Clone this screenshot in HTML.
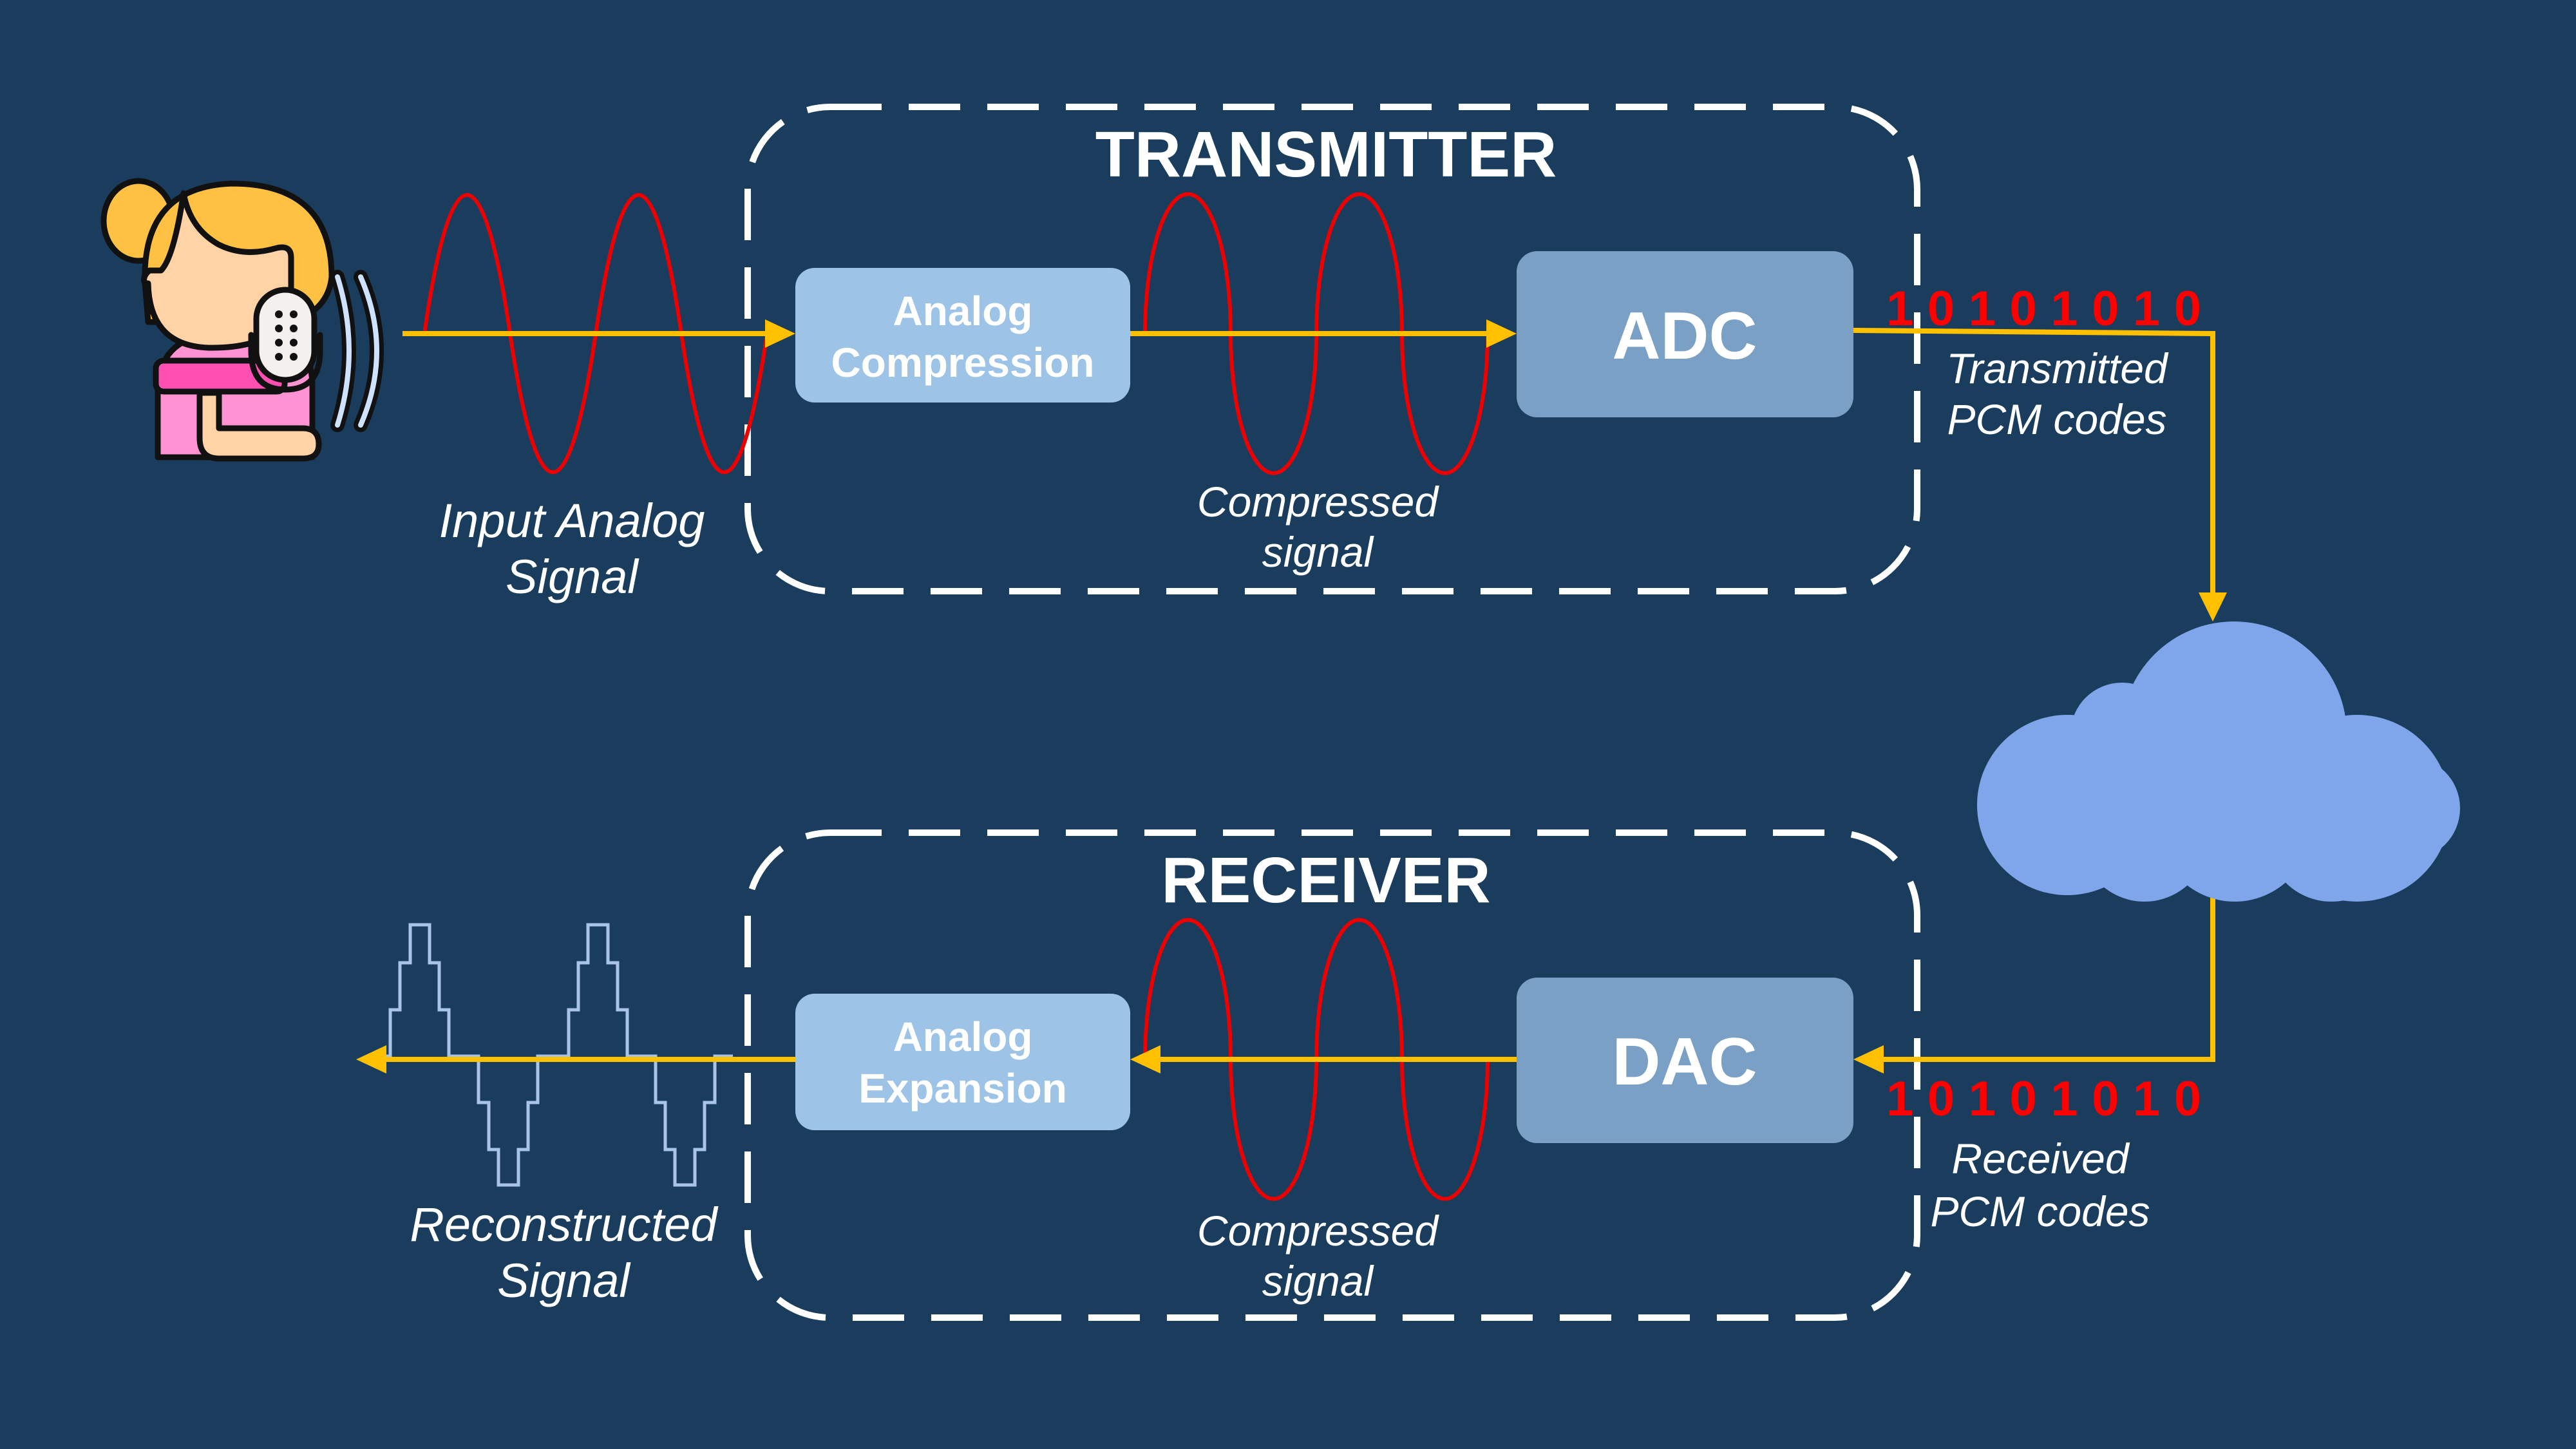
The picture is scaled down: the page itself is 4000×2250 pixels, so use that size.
<!DOCTYPE html>
<html><head><meta charset="utf-8"><style>
html,body{margin:0;padding:0;background:#1a3d5e;}
svg{display:block}
text{font-family:"Liberation Sans",Arial,sans-serif;}
</style></head><body>
<svg width="4000" height="2250" viewBox="0 0 4000 2250" xmlns="http://www.w3.org/2000/svg">
<rect width="4000" height="2250" fill="#1a3d5e"/>

<rect x="1161" y="166" width="1816" height="752" rx="128" fill="none" stroke="#fff" stroke-width="10" stroke-dasharray="80 42"/>
<rect x="1161" y="1293" width="1816" height="753" rx="128" fill="none" stroke="#fff" stroke-width="10" stroke-dasharray="80 42"/>

<text x="2059" y="274" font-size="100" font-weight="bold" fill="#fff" text-anchor="middle">TRANSMITTER</text>
<text x="2059" y="1401" font-size="100" font-weight="bold" fill="#fff" text-anchor="middle">RECEIVER</text>

<path fill="none" stroke="#e00" stroke-width="6" d="M659 518 C700 231, 750 231, 792 518 S883 805, 925 518 S1016 231, 1058 518 S1149 805, 1191 518"/>
<path fill="none" stroke="#e00" stroke-width="6" d="M1778 518 A66 215 0 0 1 1911 518 A66 215 0 0 0 2044 518 A66 215 0 0 1 2177 518 A66 215 0 0 0 2310 518"/>
<path fill="none" stroke="#e00" stroke-width="6" d="M1778 1645 A66 215 0 0 1 1911 1645 A66 215 0 0 0 2044 1645 A66 215 0 0 1 2177 1645 A66 215 0 0 0 2310 1645"/>

<path fill="none" stroke="#a9c4e8" stroke-width="5" d="M577 1640 H606 V1568 H621 V1495 H637 V1436 H667 V1495 H682 V1568 H697 V1640 H743 V1712 H759 V1785 H774 V1840 H805 V1785 H820 V1712 H835 V1640 H883 V1568 H898 V1495 H913 V1436 H944 V1495 H959 V1568 H974 V1640 H1018 V1712 H1033 V1785 H1048 V1840 H1079 V1785 H1094 V1712 H1110 V1640 H1138"/>

<rect x="1235" y="416" width="520" height="209" rx="30" fill="#9dc3e6"/>
<rect x="2355" y="390" width="523" height="258" rx="32" fill="#7ba0c6"/>
<rect x="1235" y="1543" width="520" height="212" rx="30" fill="#9dc3e6"/>
<rect x="2355" y="1518" width="523" height="257" rx="32" fill="#7ba0c6"/>
<text x="1495" y="505" font-size="64" font-weight="bold" fill="#fff" text-anchor="middle">Analog</text>
<text x="1495" y="585" font-size="64" font-weight="bold" fill="#fff" text-anchor="middle">Compression</text>
<text x="1495" y="1632" font-size="64" font-weight="bold" fill="#fff" text-anchor="middle">Analog</text>
<text x="1495" y="1712" font-size="64" font-weight="bold" fill="#fff" text-anchor="middle">Expansion</text>
<text x="2616" y="557" font-size="104" font-weight="bold" fill="#fff" text-anchor="middle">ADC</text>
<text x="2616" y="1684" font-size="104" font-weight="bold" fill="#fff" text-anchor="middle">DAC</text>

<g stroke="#ffc000" stroke-width="8" fill="none">
<line x1="625" y1="518" x2="1190" y2="518"/>
<line x1="1755" y1="518" x2="2310" y2="518"/>
<polyline points="2878,513 3436,518 3436,925"/>
<polyline points="3436,1378 3436,1645 2925,1645"/>
<line x1="2355" y1="1645" x2="1800" y2="1645"/>
<line x1="1235" y1="1645" x2="600" y2="1645"/>
</g>
<g fill="#ffc000">
<polygon points="1235,518 1188,496 1188,540"/>
<polygon points="2355,518 2308,496 2308,540"/>
<polygon points="3436,965 3414,920 3458,920"/>
<polygon points="2878,1645 2925,1623 2925,1667"/>
<polygon points="1755,1645 1802,1623 1802,1667"/>
<polygon points="553,1645 600,1623 600,1667"/>
</g>

<text x="2929" y="505" font-size="76" font-weight="bold" fill="#f00" textLength="489" lengthAdjust="spacing">10101010</text>
<text x="2929" y="1732" font-size="76" font-weight="bold" fill="#f00" textLength="489" lengthAdjust="spacing">10101010</text>

<g font-style="italic" fill="#fff" text-anchor="middle" font-size="66">
<text x="3194" y="595">Transmitted</text>
<text x="3194" y="674">PCM codes</text>
<text x="3168" y="1822">Received</text>
<text x="3168" y="1904">PCM codes</text>
<text x="2046" y="802">Compressed</text>
<text x="2046" y="880">signal</text>
<text x="2046" y="1934">Compressed</text>
<text x="2046" y="2012">signal</text>
<text x="888" y="834" font-size="74">Input Analog</text>
<text x="888" y="921" font-size="74">Signal</text>
<text x="875" y="1927" font-size="74">Reconstructed</text>
<text x="875" y="2014" font-size="74">Signal</text>
</g>

<g fill="#7fa6ea">
<circle cx="3469" cy="1140" r="175"/>
<circle cx="3210" cy="1250" r="140"/>
<circle cx="3295" cy="1140" r="80"/>
<circle cx="3660" cy="1255" r="145"/>
<circle cx="3740" cy="1255" r="80"/>
<circle cx="3330" cy="1300" r="100"/>
<circle cx="3620" cy="1300" r="100"/>
<circle cx="3470" cy="1280" r="120"/>
</g>

<g stroke="#111" stroke-width="9" stroke-linejoin="round" stroke-linecap="round">
<ellipse cx="215" cy="343" rx="54" ry="62" fill="#ffc144"/>
<path d="M245 710 V600 Q250 530 320 520 H440 Q485 540 485 600 V710 Z" fill="#ff92d2"/>
<rect x="242" y="560" width="200" height="48" rx="12" fill="#ff4fb0"/>
<path d="M310 610 V680 Q310 712 340 712 H470 Q495 712 495 690 Q495 665 470 665 H340 V610 Z" fill="#ffd3a6"/>
<path d="M225 440 Q220 290 360 285 Q515 285 515 430 Q510 480 455 500 L230 500 Z" fill="#ffc144"/>
<path d="M230 440 Q232 540 330 540 Q420 540 452 490 V400 Q452 380 430 385 Q380 400 340 380 Q295 355 285 300 Q270 400 250 420 L232 420 Q220 430 225 440 Z" fill="#ffd3a6"/>
<rect x="398" y="450" width="90" height="140" rx="45" fill="#f4f0ee"/>
<path d="M390 520 V545 Q390 605 443 605 Q497 605 497 545 V520" fill="none" stroke="#111"/>
<path d="M524 430 Q560 545 524 660" fill="none" stroke="#111" stroke-width="22"/>
<path d="M524 430 Q560 545 524 660" fill="none" stroke="#cfe2ff" stroke-width="8"/>
<path d="M560 430 Q610 545 560 660" fill="none" stroke="#111" stroke-width="22"/>
<path d="M560 430 Q610 545 560 660" fill="none" stroke="#cfe2ff" stroke-width="8"/>
</g>
<g fill="#111">
<circle cx="433" cy="488" r="6"/><circle cx="456" cy="488" r="6"/>
<circle cx="433" cy="510" r="6"/><circle cx="456" cy="510" r="6"/>
<circle cx="433" cy="532" r="6"/><circle cx="456" cy="532" r="6"/>
<circle cx="433" cy="554" r="6"/><circle cx="456" cy="554" r="6"/>
</g>
</svg>
</body></html>
